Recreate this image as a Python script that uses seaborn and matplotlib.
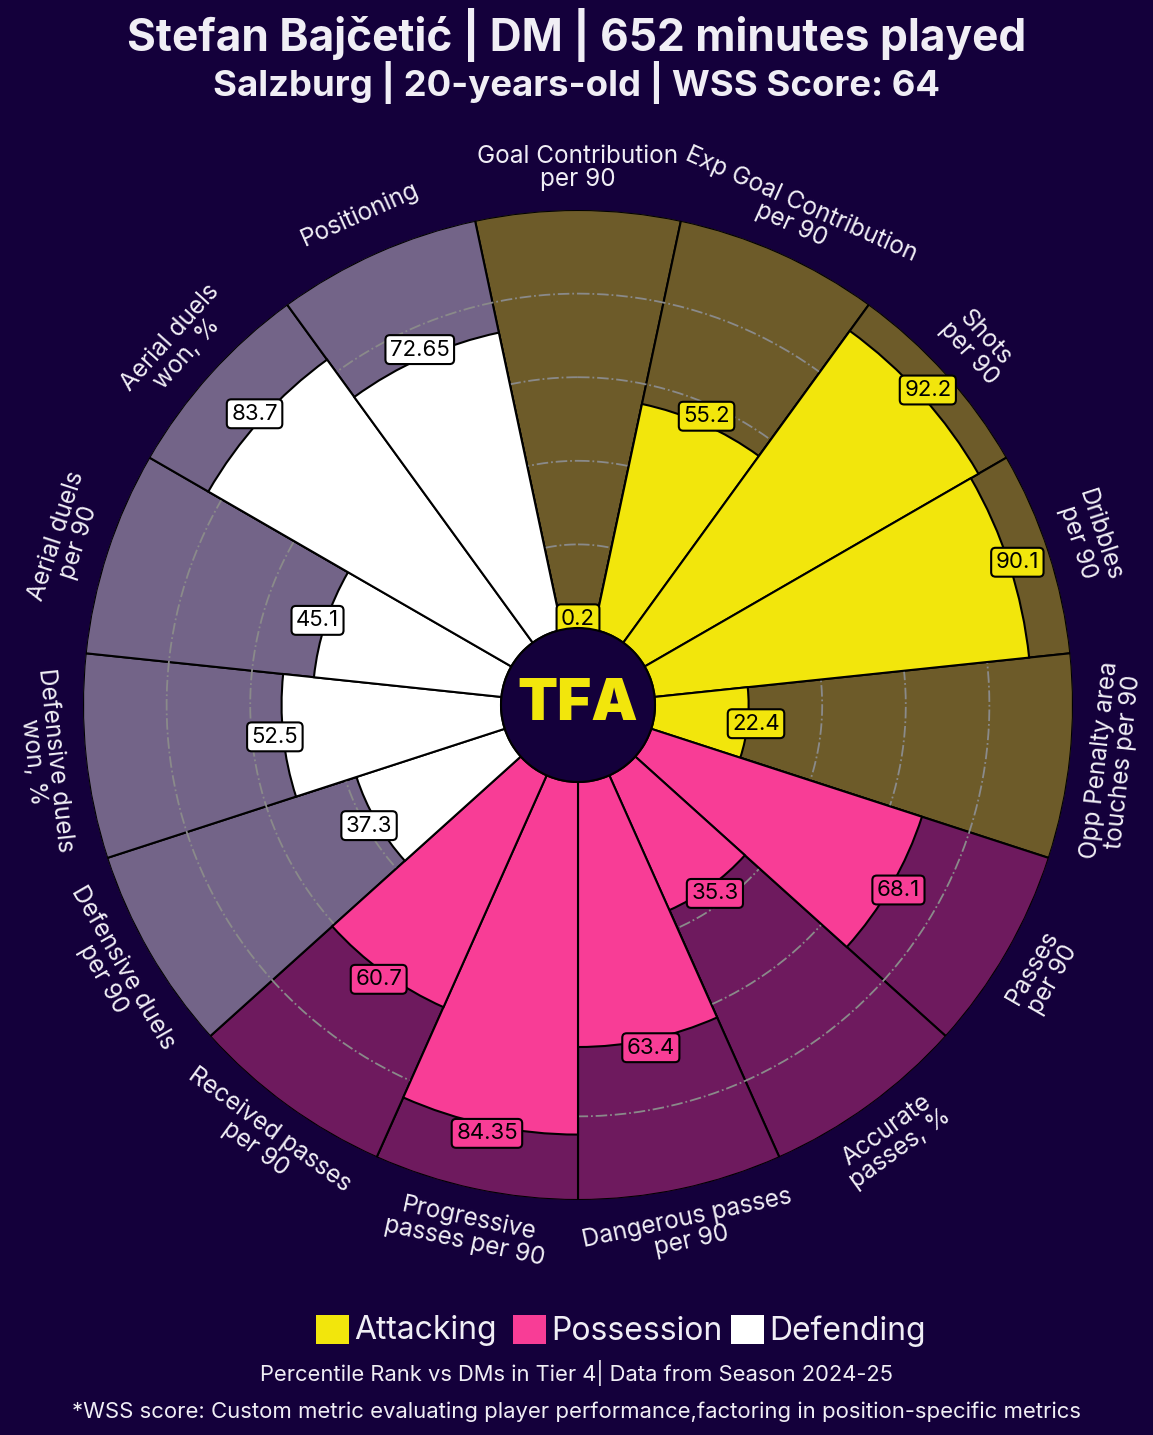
import numpy as np
import matplotlib
matplotlib.use("Agg")
import matplotlib.pyplot as plt
import seaborn as sns
from matplotlib.patches import Circle, Rectangle

sns.set_theme(style="white")
plt.rcParams['font.family'] = ['Inter', 'DejaVu Sans']

# data
params = ["Goal Contribution\nper 90", "Exp Goal Contribution\nper 90", "Shots\nper 90",
          "Dribbles\nper 90", "Opp Penalty area\ntouches per 90", "Passes\nper 90",
          "Accurate\npasses, %", "Dangerous passes\nper 90", "Progressive\npasses per 90",
          "Received passes\nper 90", "Defensive duels\nper 90", "Defensive duels\nwon, %",
          "Aerial duels\nper 90", "Aerial duels\nwon, %", "Positioning"]
values = [0.2, 55.2, 92.2, 90.1, 22.4, 68.1, 35.3, 63.4, 84.35, 60.7, 37.3, 52.5, 45.1, 83.7, 72.65]
value_labels = ["0.2", "55.2", "92.2", "90.1", "22.4", "68.1", "35.3", "63.4", "84.35",
                "60.7", "37.3", "52.5", "45.1", "83.7", "72.65"]
groups = ["Attacking"] * 5 + ["Possession"] * 5 + ["Defending"] * 5

BG = "#14003b"
slice_col = {"Attacking": "#f2e60c", "Possession": "#f83d96", "Defending": "#ffffff"}
back_col = {"Attacking": "#6d5b29", "Possession": "#6e1a5e", "Defending": "#736488"}

n = len(params)
width = 2 * np.pi / n
theta = np.arange(n) * width
hole = 77 / 418 * 100

fig = plt.figure(figsize=(11.53, 14.35), dpi=100, facecolor=BG)
ax = fig.add_axes([83 / 1153, 1 - 1200 / 1435, 990 / 1153, 990 / 1435], projection="polar")
ax.set_facecolor(BG)
ax.set_theta_zero_location("N")
ax.set_theta_direction(-1)
ax.set_ylim(-hole, 100)

# background slices, rings, then the percentile slices
ax.bar(theta, [100] * n, width=width, bottom=0, color=[back_col[g] for g in groups],
       edgecolor="black", linewidth=1.5, zorder=1)
ring_t = np.linspace(0, 2 * np.pi, 400)
for r in [20, 40, 60, 80]:
    ax.plot(ring_t, [r] * len(ring_t), color="#8a8a8a", lw=1.3, ls="-.", zorder=2)
ax.bar(theta, values, width=width, bottom=0, color=[slice_col[g] for g in groups],
       edgecolor="black", linewidth=1.5, zorder=3)

for t, v, lab, g in zip(theta, values, value_labels, groups):
    ax.text(t, v + 2, lab, ha="center", va="center", fontsize=16, color="black", zorder=6,
            bbox=dict(boxstyle="round,pad=0.2", fc=slice_col[g], ec="black", lw=1.5))

for t, p in zip(theta, params):
    rot = -np.degrees(t)
    rot = ((rot + 90) % 180) - 90
    ax.text(t, 110, p, ha="center", va="center", rotation=rot, rotation_mode="anchor",
            fontsize=17.5, color="#f0eef5", linespacing=1.0)

ax.set_xticks([])
ax.set_yticks([])
ax.grid(False)
ax.spines["polar"].set_visible(False)

ax.add_artist(Circle((0.5, 0.5), 77 / 990, transform=ax.transAxes, fc=BG, ec="black",
                     lw=1.5, zorder=10))
ax.text(0.5, 0.5, "TFA", transform=ax.transAxes, ha="center", va="center", fontsize=42,
        fontweight="black", color="#f2e60c", zorder=11)

fig.text(0.5, 1 - 35 / 1435, "Stefan Bajčetić | DM | 652 minutes played", ha="center",
         va="center", fontsize=31.8, fontweight="bold", color="#f0eef5")
fig.text(0.5, 1 - 82 / 1435, "Salzburg | 20-years-old | WSS Score: 64", ha="center",
         va="center", fontsize=26.3, fontweight="bold", color="#f0eef5")

legend_items = [("Attacking", 316), ("Possession", 513), ("Defending", 731)]
for name, x0 in legend_items:
    fig.patches.append(Rectangle((x0 / 1153, 1 - 1344 / 1435), 33 / 1153, 29 / 1435,
                                 transform=fig.transFigure, fc=slice_col[name], ec="none"))
    fig.text((x0 + 38) / 1153, 1 - 1331 / 1435, name, ha="left", va="center", fontsize=23,
             color="#f0eef5")

fig.text(0.5, 1 - 1373 / 1435, "Percentile Rank vs DMs in Tier 4| Data from Season 2024-25",
         ha="center", va="center", fontsize=15.8, color="#f0eef5")
fig.text(0.5, 1 - 1412 / 1435,
         "*WSS score: Custom metric evaluating player performance,factoring in position-specific metrics",
         ha="center", va="center", fontsize=15.9, color="#f0eef5")

fig.savefig("out.png", dpi=100, facecolor=BG)
